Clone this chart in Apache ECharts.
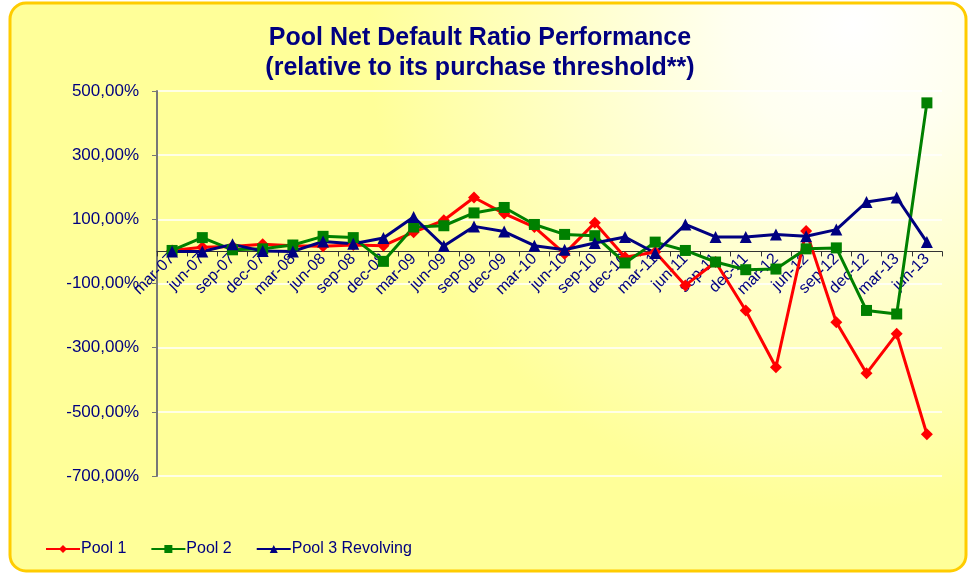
<!DOCTYPE html>
<html>
<head>
<meta charset="utf-8">
<script src="https://cdn.jsdelivr.net/npm/echarts@6/dist/echarts.min.js"></script>
<style>
  html, body { margin: 0; padding: 0; background: #fff; }
  #chart { width: 977px; height: 576px; }
</style>
</head>
<body>
<div id="chart"></div>
<script>
// 数据
let quarters = ['mar-07', 'jun-07', 'sep-07', 'dec-07', 'mar-08', 'jun-08', 'sep-08', 'dec-08',
  'mar-09', 'jun-09', 'sep-09', 'dec-09', 'mar-10', 'jun-10', 'sep-10', 'dec-10',
  'mar-11', 'jun-11', 'sep-11', 'dec-11', 'mar-12', 'jun-12', 'sep-12', 'dec-12',
  'mar-13', 'jun-13'];
let pool1 = [3, 13, 15, 22, 18, 16, 20, 18, 60, 97, 168, 118, 76, -7, 89, -18,
  -2, -106, -33, -184, -361, 64, -221, -380, -257, -570];
let pool2 = [3, 43, 5, 8, 20, 47, 43, -31, 76, 80, 120, 137, 84, 53, 49, -36,
  29, 3, -33, -57, -55, 8, 11, -184, -195, 463];
let pool3 = [0, 0, 22, 1, 0, 31, 24, 42, 107, 17, 78, 62, 18, 5, 26, 45,
  -5, 84, 45, 45, 53, 47, 68, 154, 168, 29];
let yTicks = { min: -700, max: 500, step: 200 };

(function () {
  let myChart = echarts.init(document.getElementById('chart'));
  let navy = '#000080';

  // 绘图区位置
  let gridTop = 91, gridBottom = 100, chartH = 576;
  let plotH = chartH - gridTop - gridBottom;
  let zeroY = gridTop + plotH * yTicks.max / (yTicks.max - yTicks.min);
  // 类目轴放在 0 的位置（标签跟着轴走）
  let xOffset = -(chartH - gridBottom - zeroY);

  let option = {
    animation: false,
    textStyle: { fontFamily: 'Liberation Sans, Arial, sans-serif' },
    graphic: [{
      type: 'rect',
      z: -10,
      shape: { x: 10, y: 3, width: 956, height: 568, r: 16 },
      style: {
        fill: new echarts.graphic.RadialGradient(0.88, 0.04, 0.85, [
          { offset: 0, color: '#ffffff' },
          { offset: 0.25, color: '#fffff0' },
          { offset: 1, color: '#ffff99' }
        ]),
        stroke: '#ffcc00',
        lineWidth: 3
      }
    }],
    title: {
      text: 'Pool Net Default Ratio Performance\n(relative to its purchase threshold**)',
      left: 475,
      textAlign: 'center',
      top: 18,
      textStyle: {
        color: navy,
        fontSize: 25,
        fontWeight: 'bold',
        lineHeight: 30
      }
    },
    legend: {
      left: 40,
      top: 536,
      itemWidth: 34,
      itemHeight: 10,
      itemGap: 24,
      textStyle: { color: navy, fontSize: 16, padding: [0, 0, 0, -4] },
      data: ['Pool 1', 'Pool 2', 'Pool 3 Revolving']
    },
    grid: {
      left: 157,
      right: 35,
      top: gridTop,
      bottom: gridBottom
    },
    xAxis: {
      type: 'category',
      data: quarters,
      boundaryGap: true,
      position: 'bottom',
      offset: xOffset,
      axisLine: { onZero: false, lineStyle: { color: '#333', width: 1 } },
      axisTick: { show: true, length: 5, lineStyle: { color: '#333' } },
      axisLabel: {
        interval: 0,
        rotate: 45,
        color: navy,
        fontSize: 16,
        margin: 5
      },
      splitLine: { show: false }
    },
    yAxis: {
      type: 'value',
      min: yTicks.min,
      max: yTicks.max,
      interval: yTicks.step,
      axisLine: { show: true, lineStyle: { color: '#777', width: 2 } },
      axisTick: { show: true, length: 5, lineStyle: { color: '#777' } },
      axisLabel: {
        color: navy,
        fontSize: 17,
        margin: 18,
        formatter: v => v.toFixed(2).replace('.', ',') + '%'
      },
      splitLine: { show: true, lineStyle: { color: '#ffffff', width: 1.5 } }
    },
    series: [
      {
        name: 'Pool 1',
        type: 'line',
        data: pool1,
        color: '#ff0000',
        symbol: 'diamond',
        symbolSize: 12,
        lineStyle: { width: 3 }
      },
      {
        name: 'Pool 2',
        type: 'line',
        data: pool2,
        color: '#008000',
        symbol: 'rect',
        symbolSize: 11,
        lineStyle: { width: 3 }
      },
      {
        name: 'Pool 3 Revolving',
        type: 'line',
        data: pool3,
        color: navy,
        symbol: 'triangle',
        symbolSize: 12,
        lineStyle: { width: 3 }
      }
    ]
  };

  myChart.setOption(option);
})();
</script>
</body>
</html>
